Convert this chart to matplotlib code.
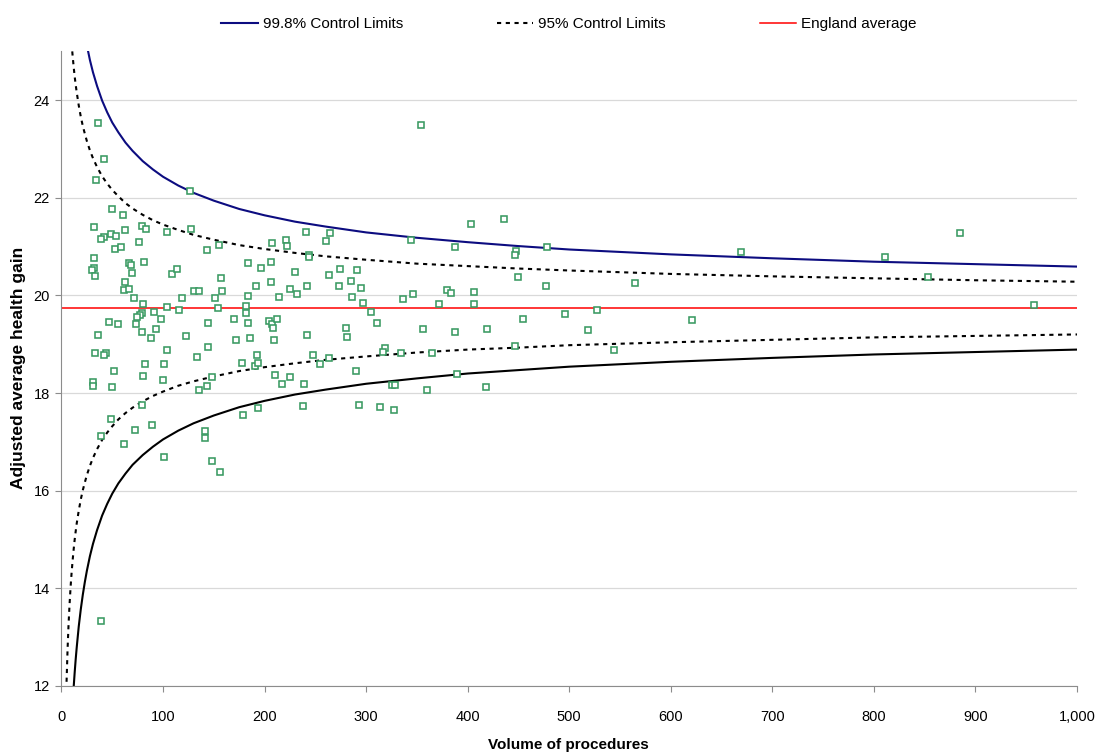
import numpy as np
from matplotlib import pyplot as plt
from matplotlib.ticker import FuncFormatter

plt.rcParams['font.family'] = ['Liberation Sans', 'DejaVu Sans']

# provider points: volume of procedures, adjusted average health gain
vol = [36.3, 42.2, 34.0, 126.2, 49.4, 60.9, 32.3, 49.1, 42.2, 38.9, 53.3, 62.5, 79.3, 83.5,
       52.4, 58.3, 76.3, 103.9, 127.5, 32.3, 32.3, 30.0, 33.3, 66.5, 68.1, 81.3, 69.4, 62.2,
       61.2, 66.1, 108.5, 113.4, 130.1, 135.1, 118.3, 71.4, 80.3, 103.6, 115.4, 79.3, 91.4,
       77.0, 74.7, 97.7, 73.4, 46.4, 55.3, 93.4, 79.3, 88.1, 36.3, 122.3, 33.3, 44.2, 41.9,
       104.2, 133.1, 82.2, 101.3, 51.4, 80.3, 100.3, 31.3, 31.3, 50.1, 135.4, 79.3, 48.4,
       89.5, 72.4, 38.6, 61.2, 100.6, 38.6,
       141.3, 141.3, 143.6, 155.4, 207.3, 221.4, 222.4, 240.4, 264.4, 260.1, 243.4, 244.0,
       183.3, 196.1, 206.3, 230.3, 263.4, 273.9, 157.5, 157.8, 191.5, 206.3, 225.4, 231.6,
       241.4, 273.3, 214.5, 151.5, 183.6, 154.1, 181.7, 181.7, 144.3, 169.6, 183.6, 204.3,
       207.3, 208.3, 212.6, 171.6, 185.7, 209.6, 242.1, 144.3, 177.5, 192.6, 190.3, 193.7,
       248.1, 263.4, 254.3, 148.5, 143.3, 210.6, 225.4, 217.5, 238.5, 178.4, 193.5, 237.5,
       148.5, 156.4,
       354.3, 403.3, 344.2, 387.5, 291.3, 285.1, 294.6, 286.4, 297.2, 304.4, 336.3, 346.1,
       379.3, 383.5, 406.5, 371.4, 406.2, 280.2, 281.2, 310.4, 356.3, 387.5, 419.0, 318.2,
       316.3, 334.4, 364.7, 290.3, 389.2, 325.1, 328.4, 359.5, 418.0, 292.6, 313.6, 327.4,
       435.7, 447.6, 446.6, 478.4, 449.5, 477.4, 564.7, 454.4, 496.1, 527.3, 518.4, 446.3,
       544.4, 621.2, 669.5, 810.6, 853.3, 884.6, 957.4]
gain = [23.54, 22.79, 22.37, 22.13, 21.76, 21.65, 21.41, 21.26, 21.19, 21.15, 21.21, 21.33,
        21.42, 21.36, 20.95, 20.99, 21.09, 21.30, 21.37, 20.76, 20.56, 20.51, 20.40, 20.67,
        20.63, 20.69, 20.45, 20.28, 20.12, 20.14, 20.44, 20.54, 20.08, 20.08, 19.95, 19.95,
        19.83, 19.77, 19.71, 19.64, 19.65, 19.60, 19.56, 19.52, 19.42, 19.45, 19.41, 19.32,
        19.25, 19.13, 19.18, 19.17, 18.83, 18.83, 18.77, 18.88, 18.73, 18.60, 18.59, 18.45,
        18.34, 18.27, 18.23, 18.15, 18.12, 18.06, 17.76, 17.46, 17.34, 17.24, 17.12, 16.95,
        16.69, 13.34,
        17.22, 17.07, 20.93, 21.04, 21.07, 21.14, 21.02, 21.30, 21.28, 21.12, 20.82, 20.79,
        20.66, 20.57, 20.69, 20.47, 20.42, 20.55, 20.35, 20.10, 20.20, 20.27, 20.13, 20.03,
        20.20, 20.20, 19.97, 19.94, 19.99, 19.74, 19.78, 19.63, 19.44, 19.51, 19.43, 19.47,
        19.42, 19.34, 19.52, 19.08, 19.13, 19.09, 19.19, 18.95, 18.61, 18.77, 18.56, 18.61,
        18.77, 18.72, 18.59, 18.33, 18.14, 18.37, 18.33, 18.18, 18.19, 17.56, 17.70, 17.73,
        16.60, 16.39,
        23.49, 21.46, 21.13, 20.99, 20.51, 20.30, 20.16, 19.96, 19.84, 19.67, 19.92, 20.02,
        20.12, 20.04, 20.06, 19.83, 19.83, 19.33, 19.15, 19.43, 19.32, 19.26, 19.31, 18.93,
        18.85, 18.81, 18.83, 18.46, 18.40, 18.16, 18.16, 18.06, 18.12, 17.75, 17.72, 17.66,
        21.56, 20.91, 20.82, 20.99, 20.38, 20.19, 20.26, 19.52, 19.61, 19.71, 19.30, 18.96,
        18.89, 19.50, 20.88, 20.79, 20.38, 21.28, 19.80]

england_avg = 19.74

# control limit curves read at these volumes
lim_x = [4, 5, 6, 7, 8, 9, 10, 11, 12, 13, 14, 15, 17, 19, 21, 23, 25, 28, 31, 35, 40, 45,
         50, 56, 63, 70, 80, 90, 100, 115, 130, 150, 175, 200, 230, 260, 300, 350, 400, 450,
         500, 600, 700, 800, 900, 1000]
upper_998 = [33.19, 31.77, 30.72, 29.91, 29.25, 28.71, 28.25, 27.85, 27.51, 27.20, 26.93,
             26.69, 26.26, 25.91, 25.61, 25.35, 25.12, 24.82, 24.57, 24.29, 23.99, 23.75,
             23.54, 23.34, 23.13, 22.96, 22.75, 22.58, 22.43, 22.25, 22.10, 21.94, 21.77,
             21.64, 21.51, 21.41, 21.29, 21.18, 21.09, 21.01, 20.94, 20.84, 20.76, 20.69,
             20.64, 20.59]
lower_998 = [6.29, 7.71, 8.76, 9.57, 10.23, 10.77, 11.23, 11.63, 11.98, 12.28, 12.55, 12.79,
             13.22, 13.57, 13.87, 14.13, 14.36, 14.66, 14.91, 15.19, 15.49, 15.73, 15.94,
             16.15, 16.35, 16.53, 16.73, 16.90, 17.05, 17.23, 17.38, 17.54, 17.71, 17.84,
             17.97, 18.07, 18.19, 18.30, 18.40, 18.47, 18.54, 18.64, 18.72, 18.79, 18.84,
             18.89]
upper_95 = [28.29, 27.39, 26.72, 26.20, 25.79, 25.44, 25.15, 24.90, 24.68, 24.48, 24.31,
            24.16, 23.89, 23.66, 23.47, 23.31, 23.16, 22.97, 22.81, 22.63, 22.44, 22.29,
            22.16, 22.03, 21.89, 21.78, 21.65, 21.54, 21.45, 21.34, 21.24, 21.14, 21.03,
            20.95, 20.87, 20.80, 20.73, 20.65, 20.60, 20.55, 20.51, 20.44, 20.39, 20.35,
            20.31, 20.28]
lower_95 = [11.19, 12.09, 12.76, 13.28, 13.69, 14.04, 14.33, 14.58, 14.80, 15.00, 15.17,
            15.33, 15.59, 15.82, 16.01, 16.17, 16.32, 16.51, 16.67, 16.85, 17.04, 17.19,
            17.32, 17.46, 17.59, 17.70, 17.83, 17.94, 18.03, 18.15, 18.24, 18.34, 18.45,
            18.53, 18.61, 18.68, 18.75, 18.83, 18.89, 18.93, 18.98, 19.04, 19.09, 19.14,
            19.17, 19.20]

fig = plt.figure(figsize=(10.96, 7.54), dpi=100)
ax = fig.add_axes([0.0561, 0.0902, 0.9266, 0.8418])

dots = (0, (2, 2.2))
l1, = ax.plot(lim_x, upper_998, color='#0c0c80', lw=1.5, label='99.8% Control Limits')
ax.plot(lim_x, lower_998, color='black', lw=1.5)
l2, = ax.plot(lim_x, upper_95, color='black', lw=1.5, linestyle=dots, label='95% Control Limits')
ax.plot(lim_x, lower_95, color='black', lw=1.5, linestyle=dots)
l3 = ax.axhline(england_avg, color='#ff0000', lw=1.1, label='England average')

ax.plot(vol, gain, linestyle='none', marker='s', ms=4.0, mew=1.15,
        mec='#3a9a62', mfc='white', zorder=5)

ax.set_xlim(0, 1000)
ax.set_ylim(12, 25)
ax.set_xticks(np.arange(0, 1001, 100))
ax.set_yticks(np.arange(12, 25, 2))
ax.xaxis.set_major_formatter(FuncFormatter(lambda v, p: '{:,.0f}'.format(v)))

ax.grid(axis='y', color='#d9d9d9', lw=0.9)
ax.set_axisbelow(True)
for s in ['top', 'right']:
    ax.spines[s].set_visible(False)
for s in ['left', 'bottom']:
    ax.spines[s].set_color('#8c8c8c')
ax.tick_params(axis='both', direction='out', color='#8c8c8c', length=4, labelsize=10.5)
ax.tick_params(axis='x', pad=13)
ax.tick_params(axis='y', pad=4.5)

fig.text(0.519, 1 - 745 / 754, 'Volume of procedures', ha='center', va='center',
         fontsize=11, fontweight='bold')
fig.text(19 / 1096, 1 - 368 / 754, 'Adjusted average health gain', ha='center', va='center',
         rotation=90, fontsize=12.5, fontweight='bold')

fig.legend(handles=[l1, l2, l3], loc='center', bbox_to_anchor=(0.519, 1 - 24 / 754),
           ncol=3, frameon=False, fontsize=11, handlelength=2.4, handletextpad=0.3,
           columnspacing=6.15)

plt.savefig('out.png', dpi=100)
